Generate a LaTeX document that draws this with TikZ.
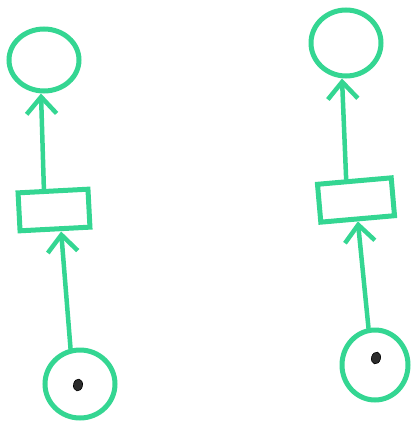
\documentclass[tikz,border=0pt]{standalone}
\usetikzlibrary{arrows.meta,shapes.geometric}
\definecolor{pen}{RGB}{52,214,146}
\definecolor{tok}{RGB}{45,45,45}
\tikzset{
  place/.style={ellipse,draw=pen,line width=5pt,inner sep=0pt},
  trans/.style={rectangle,draw=pen,line width=5pt,inner sep=0pt,minimum width=70pt,minimum height=38pt},
  token/.style={ellipse,fill=tok,draw=black,line width=0.6pt,minimum width=9pt,minimum height=12pt,inner sep=0pt},
  arc/.style={draw=pen,line width=4.5pt,line cap=round,line join=round,
    -{Straight Barb[length=17pt,width=30pt,line width=4.5pt]}}
}
\begin{document}
\begin{tikzpicture}[x=1pt,y=-1pt]
\useasboundingbox (0,0) rectangle (414,428);
% left column
\node[place,minimum width=70pt,minimum height=62pt] (ltop) at (44,60) {};
\node[trans,rotate=3] (lrect) at (54,210) {};
\node[place,minimum width=70pt,minimum height=68pt] (lbot) at (80,384) {};
\node[token,rotate=-10] (ltok) at (78,385) {};
% right column
\node[place,minimum width=70pt,minimum height=66pt] (rtop) at (346,43) {};
\node[trans,rotate=5,minimum width=74pt] (rrect) at (356,200) {};
\node[place,minimum width=66pt,minimum height=70pt] (rbot) at (375,365) {};
\node[token,rotate=-15] (rtok) at (376,358) {};
% arcs
\draw[arc] ([xshift=-9pt]lrect.north) -- ([xshift=-3pt]ltop.south);
\draw[arc] (lbot.105) -- ([xshift=6pt]lrect.south);
\draw[arc] ([xshift=-8pt]rrect.north) -- ([xshift=-4pt]rtop.south);
\draw[arc] (rbot.100) -- ([xshift=0pt]rrect.south);
\end{tikzpicture}
\end{document}
